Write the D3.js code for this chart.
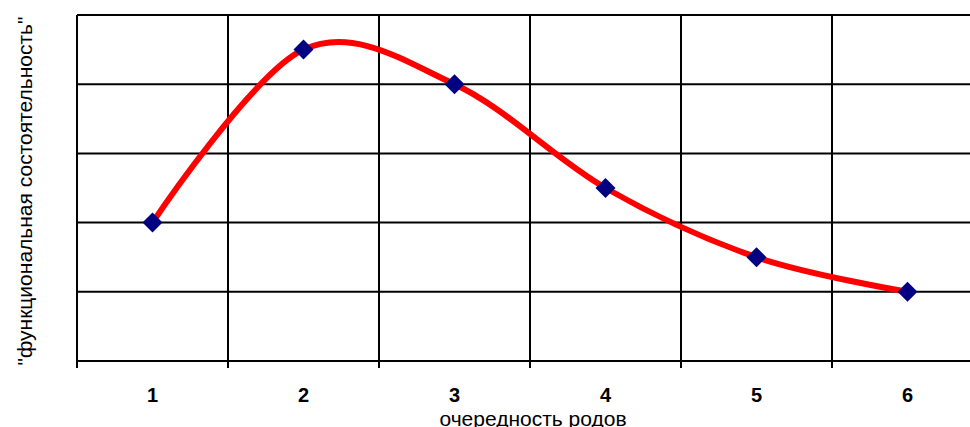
<!DOCTYPE html>
<html>
<head>
<meta charset="utf-8">
<script src="https://cdn.jsdelivr.net/npm/d3@7"></script>
<style>
    body { margin: 0; background: #fff; overflow: hidden; }
    svg { display: block; font-family: Arial, "Liberation Sans", sans-serif; }
</style>
</head>
<body>
<div id="chart"></div>
<script>
// данные графика
const categories = ['1', '2', '3', '4', '5', '6'];
const values = [2, 4.5, 4, 2.5, 1.5, 1];
const yTicks = [0, 1, 2, 3, 4, 5];
const xTitle = 'очередность родов';
const yTitle = '"функциональная состоятельность"';

const width = 970;
const height = 427;
const margin = { top: 15, left: 77 };
const plotW = 906;
const plotH = 346;

const svg = d3.select('#chart')
    .append('svg')
    .attr('width', width)
    .attr('height', height);

const x = d3.scaleBand()
    .domain(categories)
    .range([margin.left, margin.left + plotW])
    .padding(0);

const y = d3.scaleLinear()
    .domain([0, 5])
    .range([margin.top + plotH, margin.top]);

// горизонтальная сетка
svg.append('g')
    .selectAll('line')
    .data(yTicks)
    .enter()
    .append('line')
    .attr('x1', margin.left)
    .attr('x2', margin.left + plotW)
    .attr('y1', d => y(d))
    .attr('y2', d => y(d))
    .attr('stroke', '#000')
    .attr('stroke-width', 2);

// вертикальная сетка (границы категорий)
const bounds = categories.map(c => x(c)).concat([margin.left + plotW]);
svg.append('g')
    .selectAll('line')
    .data(bounds)
    .enter()
    .append('line')
    .attr('x1', d => d)
    .attr('x2', d => d)
    .attr('y1', margin.top)
    .attr('y2', y(0) + 7)
    .attr('stroke', '#000')
    .attr('stroke-width', 2);

// подписи оси X
svg.append('g')
    .selectAll('text')
    .data(categories)
    .enter()
    .append('text')
    .attr('x', d => x(d) + x.bandwidth() / 2)
    .attr('y', 402)
    .attr('text-anchor', 'middle')
    .attr('font-size', '20px')
    .attr('font-weight', 'bold')
    .text(d => d);

// линия
const line = d3.line()
    .x((d, i) => x(categories[i]) + x.bandwidth() / 2)
    .y(d => y(d))
    .curve(d3.curveCardinal.tension(0));

svg.append('path')
    .datum(values)
    .attr('d', line)
    .attr('fill', 'none')
    .attr('stroke', '#ff0000')
    .attr('stroke-width', 6)
    .attr('stroke-linejoin', 'round');

// маркеры
svg.append('g')
    .selectAll('path')
    .data(values)
    .enter()
    .append('path')
    .attr('transform', (d, i) => `translate(${x(categories[i]) + x.bandwidth() / 2},${y(d)})`)
    .attr('d', 'M0,-10L10,0L0,10L-10,0Z')
    .attr('fill', '#000080');

// заголовки осей
svg.append('text')
    .attr('x', 533)
    .attr('y', 426)
    .attr('text-anchor', 'middle')
    .attr('font-size', '21px')
    .text(xTitle);

svg.append('text')
    .attr('transform', 'translate(32,191) rotate(-90)')
    .attr('text-anchor', 'middle')
    .attr('font-size', '21px')
    .text(yTitle);
</script>
</body>
</html>
